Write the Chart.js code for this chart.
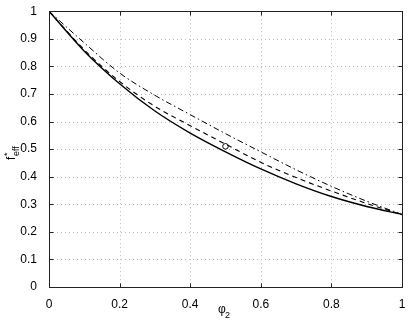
<!DOCTYPE html>
<html>
<head>
<meta charset="utf-8">
<script src="https://cdn.jsdelivr.net/npm/chart.js@4"></script>
<style>
html,body{margin:0;padding:0;background:#fff;}
#wrap{width:409px;height:325px;position:relative;}
</style>
</head>
<body>
<div id="wrap"><canvas id="c" width="409" height="325"></canvas></div>
<script>
const phi = [0, 0.1, 0.2, 0.3, 0.4, 0.5, 0.6, 0.7, 0.8, 0.9, 1.0];
const solidVals   = [1.0, 0.855, 0.737, 0.638, 0.558, 0.490, 0.428, 0.374, 0.328, 0.292, 0.263];
const dashedVals  = [1.0, 0.860, 0.745, 0.655, 0.585, 0.518, 0.452, 0.397, 0.348, 0.303, 0.263];
const dashdotVals = [1.0, 0.885, 0.776, 0.695, 0.625, 0.556, 0.490, 0.425, 0.365, 0.311, 0.263];
const circlePt = [{x: 0.5, y: 0.51}];
const xTicks = [0, 0.2, 0.4, 0.6, 0.8, 1];
const yTicks = [0, 0.1, 0.2, 0.3, 0.4, 0.5, 0.6, 0.7, 0.8, 0.9, 1];

const toXY = arr => arr.map((v, i) => ({x: phi[i], y: v}));
const FONT = "'Liberation Sans', Arial, Helvetica, sans-serif";

const boxPlugin = {
  id: 'boxPlugin',
  beforeDatasetsDraw(chart) {
    const {ctx, chartArea: a, scales: {x, y}} = chart;
    ctx.save();
    ctx.strokeStyle = '#b8b8b8';
    ctx.lineWidth = 1;
    ctx.setLineDash([1, 3]);
    xTicks.forEach(t => {
      if (t === 0 || t === 1) return;
      const px = Math.round(x.getPixelForValue(t)) + 0.5;
      ctx.beginPath(); ctx.moveTo(px, a.top); ctx.lineTo(px, a.bottom); ctx.stroke();
    });
    yTicks.forEach(t => {
      if (t === 0 || t === 1) return;
      const py = Math.round(y.getPixelForValue(t)) + 0.5;
      ctx.beginPath(); ctx.moveTo(a.left, py); ctx.lineTo(a.right, py); ctx.stroke();
    });
    ctx.restore();
  },
  afterDatasetsDraw(chart) {
    const {ctx, chartArea: a, scales: {x, y}} = chart;
    ctx.save();
    ctx.setLineDash([]);
    ctx.strokeStyle = '#222';
    ctx.lineWidth = 1;
    const L = Math.round(a.left) + 0.5, R = Math.round(a.right) + 0.5;
    const T = Math.round(a.top) + 0.5, B = Math.round(a.bottom) + 0.5;
    ctx.strokeRect(L, T, R - L, B - T);
    const tl = 4;
    xTicks.forEach(t => {
      const px = Math.round(x.getPixelForValue(t)) + 0.5;
      ctx.beginPath(); ctx.moveTo(px, B); ctx.lineTo(px, B - tl); ctx.stroke();
      ctx.beginPath(); ctx.moveTo(px, T); ctx.lineTo(px, T + tl); ctx.stroke();
    });
    yTicks.forEach(t => {
      const py = Math.round(y.getPixelForValue(t)) + 0.5;
      ctx.beginPath(); ctx.moveTo(L, py); ctx.lineTo(L + tl, py); ctx.stroke();
      ctx.beginPath(); ctx.moveTo(R, py); ctx.lineTo(R - tl, py); ctx.stroke();
    });
    // axis titles
    ctx.fillStyle = '#000';
    ctx.textBaseline = 'alphabetic';
    ctx.textAlign = 'left';
    ctx.font = '12px ' + FONT;
    ctx.fillText('\u03C6', 218, 313);
    ctx.font = '9px ' + FONT;
    ctx.fillText('2', 225, 318);
    ctx.save();
    ctx.translate(15, 160);
    ctx.rotate(-Math.PI / 2);
    ctx.font = '12px ' + FONT;
    ctx.fillText('f', 0, 0);
    ctx.font = '9px ' + FONT;
    ctx.fillText('*', 4, -5);
    ctx.fillText('eff', 4, 4);
    ctx.restore();
    ctx.restore();
  }
};

new Chart(document.getElementById('c'), {
  type: 'line',
  data: {
    datasets: [
      {label: 'solid', data: toXY(solidVals), borderColor: '#000', borderWidth: 1.4, pointRadius: 0, cubicInterpolationMode: 'monotone', fill: false},
      {label: 'dashed', data: toXY(dashedVals), borderColor: '#000', borderWidth: 1.1, borderDash: [5, 4], pointRadius: 0, cubicInterpolationMode: 'monotone', fill: false},
      {label: 'dashdot', data: toXY(dashdotVals), borderColor: '#000', borderWidth: 1, borderDash: [6, 3, 1.5, 3], pointRadius: 0, cubicInterpolationMode: 'monotone', fill: false},
      {label: 'circle', data: circlePt, showLine: false, pointRadius: 2.8, pointBorderWidth: 1, pointBorderColor: '#000', pointBackgroundColor: '#fff'}
    ]
  },
  options: {
    responsive: false,
    animation: false,
    events: [],
    layout: {padding: {top: 10, right: 7, left: 0, bottom: 0}},
    plugins: {legend: {display: false}, tooltip: {enabled: false}},
    scales: {
      x: {
        type: 'linear', min: 0, max: 1,
        afterBuildTicks: s => { s.ticks = xTicks.map(v => ({value: v})); },
        afterFit: s => { s.height = 38; },
        grid: {display: false}, border: {display: false},
        ticks: {color: '#000', font: {family: FONT, size: 12}, padding: 2, maxRotation: 0, autoSkip: false,
                callback: v => String(v)}
      },
      y: {
        type: 'linear', min: 0, max: 1,
        afterBuildTicks: s => { s.ticks = yTicks.map(v => ({value: v})); },
        afterFit: s => { s.width = 49; },
        grid: {display: false}, border: {display: false},
        ticks: {color: '#000', font: {family: FONT, size: 12}, padding: 4, autoSkip: false,
                callback: v => String(v)}
      }
    }
  },
  plugins: [boxPlugin]
});
</script>
</body>
</html>
